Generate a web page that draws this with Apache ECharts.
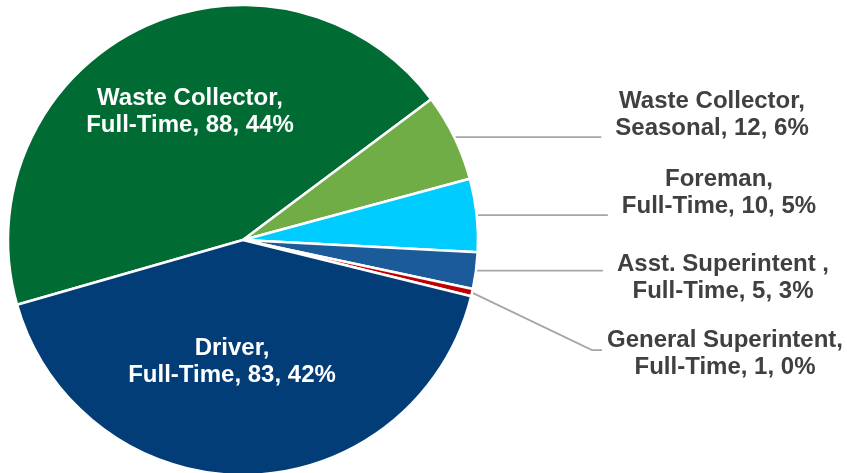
<!DOCTYPE html>
<html>
<head>
<meta charset="utf-8">
<script src="https://cdn.jsdelivr.net/npm/echarts@6/dist/echarts.min.js"></script>
<style>
html,body{margin:0;padding:0;background:#fff;}
#chart{width:847px;height:473px;}
</style>
</head>
<body>
<div id="chart"></div>
<script>
// Data
var categories = [
  'Waste Collector,\nFull-Time',
  'Waste Collector,\nSeasonal',
  'Foreman,\nFull-Time',
  'Asst. Superintent ,\nFull-Time',
  'General Superintent,\nFull-Time',
  'Driver,\nFull-Time'
];
var values = [88, 12, 10, 5, 1, 83];
var pctLabels = ['44%', '6%', '5%', '3%', '0%', '42%'];

// Styling
var colors = ['#006B33', '#70AD47', '#00CCFF', '#1B5B99', '#C00000', '#033D78'];
var insideIdx = [0, 5];
// label centres (layout only)
var labelPos = [
  [190, 112],
  [712, 115],
  [719, 193],
  [723, 278],
  [725, 354],
  [232, 362]
];

var chart = echarts.init(document.getElementById('chart'));

var data = categories.map(function (c, i) {
  var inside = insideIdx.indexOf(i) >= 0;
  return {
    name: c,
    value: values[i],
    itemStyle: { color: colors[i] },
    label: inside ? { position: 'inside', color: '#ffffff' } : { position: 'outside', color: '#404040' },
    labelLine: { show: !inside }
  };
});

chart.setOption({
  animation: false,
  series: [{
    type: 'pie',
    center: [243, 240],
    radius: 235,
    startAngle: 196,
    clockwise: true,
    avoidLabelOverlap: false,
    itemStyle: { borderColor: '#ffffff', borderWidth: 2.5 },
    label: {
      show: true,
      fontFamily: 'Liberation Sans, Arial, sans-serif',
      fontWeight: 'bold',
      fontSize: 24,
      lineHeight: 27,
      align: 'center',
      formatter: function (p) {
        return p.name + ', ' + p.value + ', ' + pctLabels[p.dataIndex];
      }
    },
    labelLine: {
      show: true,
      length: 5,
      length2: 5,
      smooth: false,
      lineStyle: { color: '#A6A6A6', width: 1.75 }
    },
    labelLayout: function (p) {
      var L = labelPos[p.dataIndex];
      var out = { x: L[0], y: L[1], align: 'center', verticalAlign: 'middle' };
      if (insideIdx.indexOf(p.dataIndex) < 0 && p.labelLinePoints) {
        var e = p.labelLinePoints[0];
        var left = L[0] - p.labelRect.width / 2;
        if (p.dataIndex === 4) {
          out.labelLinePoints = [[e[0], e[1]], [left - 15, L[1] - 4], [left - 5, L[1] - 4]];
        } else {
          out.labelLinePoints = [[e[0], e[1]], [left - 14, e[1]], [left - 14, e[1]]];
        }
      }
      return out;
    },
    data: data
  }]
});
</script>
</body>
</html>
